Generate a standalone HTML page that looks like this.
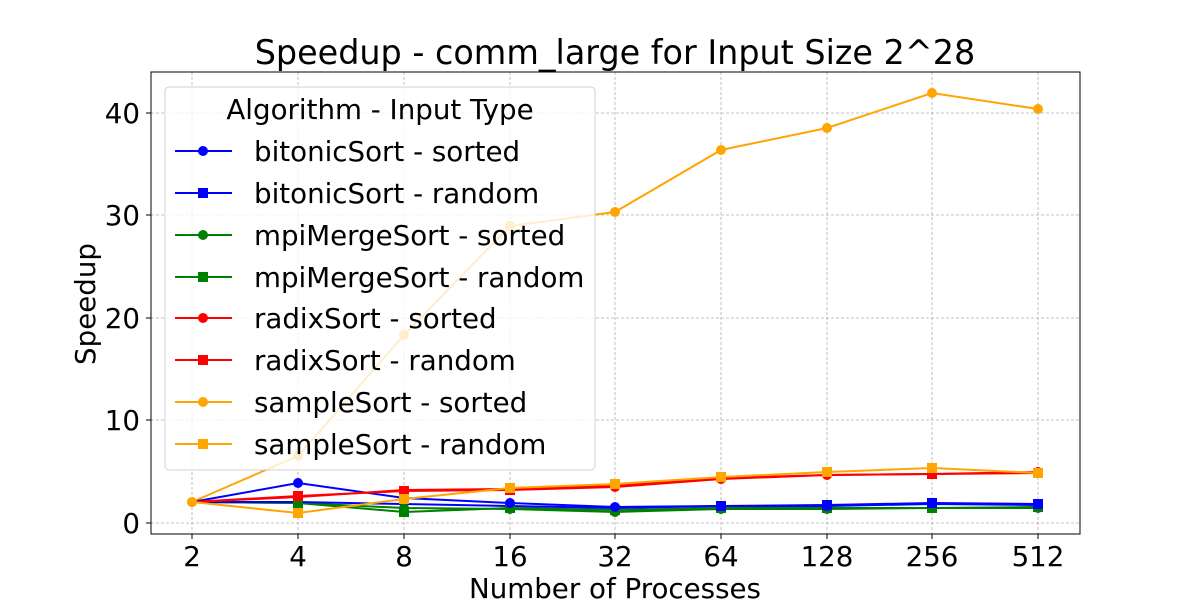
<!DOCTYPE html>
<html><head><style>body{margin:0;background:#fff}svg{display:block}text{font-family:"DejaVu Sans","Liberation Sans",sans-serif;fill:#000}</style></head>
<body>
<svg width="1200" height="600" xmlns="http://www.w3.org/2000/svg">
<rect width="1200" height="600" fill="#fff"/>
<text x="615" y="64" font-size="33.4" text-anchor="middle">Speedup - comm_large for Input Size 2^28</text>
<g stroke="#b0b0b0" stroke-width="0.8" stroke-dasharray="3,2">
<line x1="192" y1="72" x2="192" y2="534"/><line x1="298" y1="72" x2="298" y2="534"/><line x1="404" y1="72" x2="404" y2="534"/><line x1="510" y1="72" x2="510" y2="534"/><line x1="615" y1="72" x2="615" y2="534"/><line x1="721" y1="72" x2="721" y2="534"/><line x1="827" y1="72" x2="827" y2="534"/><line x1="932" y1="72" x2="932" y2="534"/><line x1="1038" y1="72" x2="1038" y2="534"/>
<line x1="151" y1="523" x2="1080" y2="523"/><line x1="151" y1="420" x2="1080" y2="420"/><line x1="151" y1="318" x2="1080" y2="318"/><line x1="151" y1="215" x2="1080" y2="215"/><line x1="151" y1="113" x2="1080" y2="113"/>
</g>
<defs><circle id="c" r="5"/><rect id="s" x="-5" y="-5" width="10" height="10"/></defs>
<g fill="none" stroke-width="2">
<polyline stroke="orange" points="192,502 298,456 404,335 510,226 615,212 721,150 827,128 932,93 1038,109"/>
<polyline stroke="green" points="192,502 298,503 404,508 510,509 615,512 721,509 827,509 932,508 1038,508"/>
<polyline stroke="green" points="192,502 298,503 404,512 510,508 615,510 721,508 827,508 932,508 1038,507"/>
<polyline stroke="blue" points="192,502 298,483 404,498 510,503 615,507 721,506 827,506 932,504 1038,505"/>
<polyline stroke="blue" points="192,502 298,502 404,504 510,506 615,508 721,506 827,505 932,503 1038,504"/>
<polyline stroke="red" points="192,502 298,497 404,490 510,489 615,486 721,478 827,475 932,474 1038,472"/>
<polyline stroke="red" points="192,502 298,496 404,491 510,490 615,487 721,479 827,475 932,474 1038,473"/>
<polyline stroke="orange" points="192,502 298,513 404,499 510,488 615,484 721,477 827,472 932,468 1038,473"/>
</g>
<g fill="orange"><use href="#c" x="192" y="502"/><use href="#c" x="298" y="456"/><use href="#c" x="404" y="335"/><use href="#c" x="510" y="226"/><use href="#c" x="615" y="212"/><use href="#c" x="721" y="150"/><use href="#c" x="827" y="128"/><use href="#c" x="932" y="93"/><use href="#c" x="1038" y="109"/></g>
<g fill="green"><use href="#c" x="298" y="503"/><use href="#c" x="404" y="508"/><use href="#c" x="510" y="509"/><use href="#c" x="615" y="512"/><use href="#c" x="721" y="509"/><use href="#c" x="827" y="509"/><use href="#c" x="932" y="508"/><use href="#c" x="1038" y="508"/>
<use href="#s" x="298" y="503"/><use href="#s" x="404" y="512"/><use href="#s" x="510" y="508"/><use href="#s" x="615" y="510"/><use href="#s" x="721" y="508"/><use href="#s" x="827" y="508"/><use href="#s" x="932" y="508"/><use href="#s" x="1038" y="507"/></g>
<g fill="blue"><use href="#c" x="298" y="483"/><use href="#c" x="404" y="498"/><use href="#c" x="510" y="503"/><use href="#c" x="615" y="507"/><use href="#c" x="721" y="506"/><use href="#c" x="827" y="506"/><use href="#s" x="932" y="503"/><use href="#s" x="1038" y="504"/><use href="#s" x="721" y="506"/><use href="#s" x="827" y="505"/></g>
<g fill="red"><use href="#s" x="298" y="496"/><use href="#s" x="404" y="491"/><use href="#s" x="510" y="490"/><use href="#c" x="615" y="487"/><use href="#c" x="721" y="479"/><use href="#c" x="827" y="475"/><use href="#s" x="932" y="474"/><use href="#c" x="1038" y="472"/></g>
<g fill="orange"><use href="#c" x="192" y="502"/><use href="#s" x="298" y="513"/><use href="#s" x="404" y="499"/><use href="#s" x="510" y="488"/><use href="#s" x="615" y="484"/><use href="#s" x="721" y="477"/><use href="#s" x="827" y="472"/><use href="#s" x="932" y="468"/><use href="#s" x="1038" y="473"/></g>
<rect x="151" y="72" width="929" height="462" fill="none" stroke="#000" stroke-width="1"/>
<g stroke="#000"><line x1="192" y1="534" x2="192" y2="539"/><line x1="298" y1="534" x2="298" y2="539"/><line x1="404" y1="534" x2="404" y2="539"/><line x1="510" y1="534" x2="510" y2="539"/><line x1="615" y1="534" x2="615" y2="539"/><line x1="721" y1="534" x2="721" y2="539"/><line x1="827" y1="534" x2="827" y2="539"/><line x1="932" y1="534" x2="932" y2="539"/><line x1="1038" y1="534" x2="1038" y2="539"/>
<line x1="146" y1="523" x2="151" y2="523"/><line x1="146" y1="420" x2="151" y2="420"/><line x1="146" y1="318" x2="151" y2="318"/><line x1="146" y1="215" x2="151" y2="215"/><line x1="146" y1="113" x2="151" y2="113"/></g>
<g font-size="27.7" text-anchor="middle"><text x="192" y="566">2</text><text x="298" y="566">4</text><text x="404" y="566">8</text><text x="510" y="566">16</text><text x="615" y="566">32</text><text x="721" y="566">64</text><text x="827" y="566">128</text><text x="932" y="566">256</text><text x="1038" y="566">512</text></g>
<g font-size="27.7" text-anchor="end"><text x="140" y="533">0</text><text x="140" y="430">10</text><text x="140" y="328">20</text><text x="140" y="225">30</text><text x="140" y="123">40</text></g>
<text x="615" y="598" font-size="27.7" text-anchor="middle">Number of Processes</text>
<text transform="translate(95,304) rotate(-90)" font-size="27.7" text-anchor="middle">Speedup</text>
<rect x="165" y="87" width="430" height="383" rx="4" fill="#fff" fill-opacity="0.8" stroke="#d0d0d0"/>
<text x="380" y="119" font-size="27.7" text-anchor="middle">Algorithm - Input Type</text>
<g stroke-width="2">
<line x1="175" y1="151" x2="232" y2="151" stroke="blue"/><line x1="175" y1="193" x2="232" y2="193" stroke="blue"/>
<line x1="175" y1="235" x2="232" y2="235" stroke="green"/><line x1="175" y1="277" x2="232" y2="277" stroke="green"/>
<line x1="175" y1="318" x2="232" y2="318" stroke="red"/><line x1="175" y1="360" x2="232" y2="360" stroke="red"/>
<line x1="175" y1="402" x2="232" y2="402" stroke="orange"/><line x1="175" y1="444" x2="232" y2="444" stroke="orange"/>
</g>
<use href="#c" x="203" y="151" fill="blue"/><use href="#s" x="203" y="193" fill="blue"/>
<use href="#c" x="203" y="235" fill="green"/><use href="#s" x="203" y="277" fill="green"/>
<use href="#c" x="203" y="318" fill="red"/><use href="#s" x="203" y="360" fill="red"/>
<use href="#c" x="203" y="402" fill="orange"/><use href="#s" x="203" y="444" fill="orange"/>
<g font-size="27.7"><text x="254" y="161">bitonicSort - sorted</text><text x="254" y="203">bitonicSort - random</text><text x="254" y="245">mpiMergeSort - sorted</text><text x="254" y="287">mpiMergeSort - random</text><text x="254" y="328">radixSort - sorted</text><text x="254" y="370">radixSort - random</text><text x="254" y="412">sampleSort - sorted</text><text x="254" y="454">sampleSort - random</text></g>
</svg>
</body></html>
